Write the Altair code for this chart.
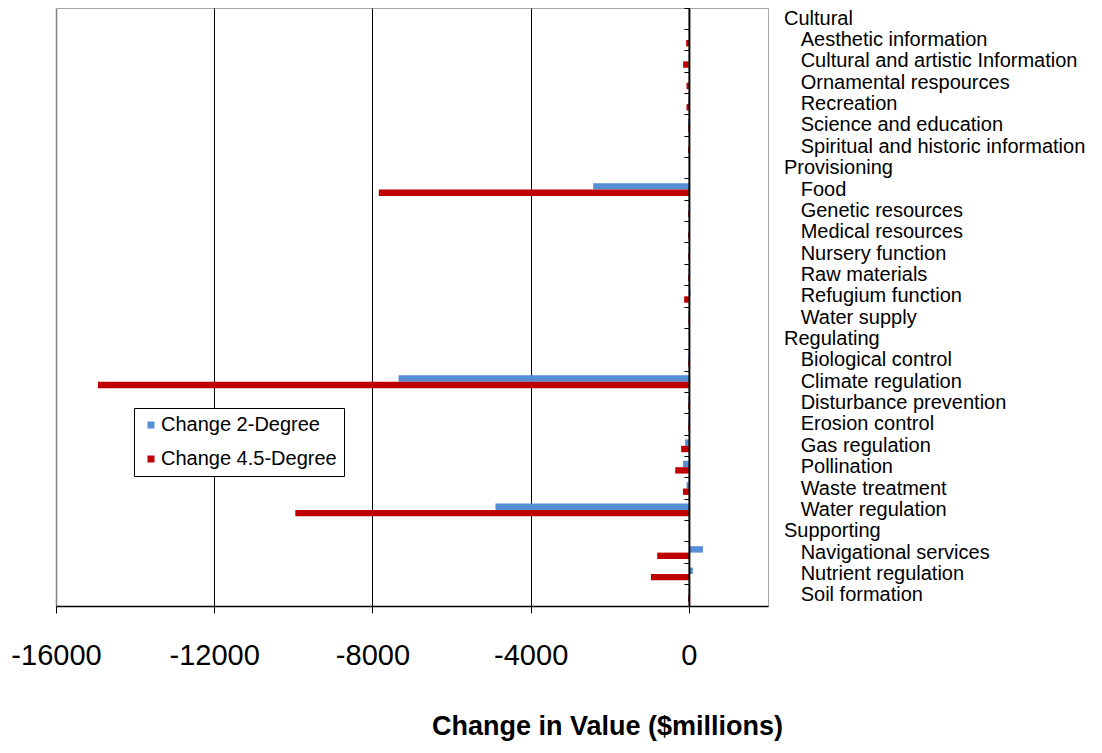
import altair as alt
import pandas as pd

# ---------------- data ----------------
categories = [
    "Cultural", "Aesthetic information", "Cultural and artistic Information",
    "Ornamental respources", "Recreation", "Science and education",
    "Spiritual and historic information",
    "Provisioning", "Food", "Genetic resources", "Medical resources",
    "Nursery function", "Raw materials", "Refugium function", "Water supply",
    "Regulating", "Biological control", "Climate regulation",
    "Disturbance prevention", "Erosion control", "Gas regulation",
    "Pollination", "Waste treatment", "Water regulation",
    "Supporting", "Navigational services", "Nutrient regulation", "Soil formation",
]
headers = ["Cultural", "Provisioning", "Regulating", "Supporting"]

change_2deg = [
    None, 0, 0, 0, -15, -20, 0,
    None, -2420, -5, -5, -5, -5, 40, -15,
    None, -15, -7340, -15, -15, -95, -150, -60, -4890,
    None, 355, 100, -5,
]
change_45deg = [
    None, -70, -145, -60, -60, -20, -20,
    None, -7840, -20, -20, -20, -20, -120, -15,
    None, -20, -14940, -20, -20, -195, -345, -150, -9950,
    None, -800, -960, -20,
]
series_names = ["Change 2-Degree", "Change 4.5-Degree"]
series_colors = ["#558ED5", "#C00000"]
x_ticks = [-16000, -12000, -8000, -4000, 0]

# ---------------- table ----------------
# zero-width space keeps the non-breaking-space indent from being trimmed
INDENT = "\u200b" + "\u00a0" * 3
labels = [c if c in headers else INDENT + c for c in categories]

rows = []
for lab, a, b in zip(labels, change_2deg, change_45deg):
    if a is not None:
        rows.append({"label": lab, "series": series_names[0], "value": a})
    if b is not None:
        rows.append({"label": lab, "series": series_names[1], "value": b})
df = pd.DataFrame(rows)

FONT = "Liberation Sans, Arial, sans-serif"
W, H = 712, 598

xscale = alt.Scale(domain=[-16000, 2000], nice=False, zero=False)
yscale = alt.Scale(domain=labels, paddingInner=0, paddingOuter=0)

x_enc = alt.X(
    "value:Q",
    scale=xscale,
    title="Change in Value ($millions)",
    axis=alt.Axis(
        values=x_ticks,
        labelExpr="'' + datum.value",
        labelFont=FONT,
        labelFontSize=29,
        labelColor="black",
        labelPadding=28,
        labelBaseline="top",
        labelFlush=False,
        labelOverlap=False,
        domainColor="black",
        domainWidth=1.5,
        tickColor="black",
        tickSize=7,
        tickWidth=1,
        grid=True,
        gridColor=alt.condition("datum.value === -16000", alt.value("#808080"), alt.value("black")),
        gridWidth=alt.condition("datum.value === -16000", alt.value(1.5), alt.value(1)),
        gridOpacity=1,
        titleFont=FONT,
        titleFontSize=27,
        titleFontWeight="bold",
        titleColor="black",
        titleX=551,
        titleY=128,
        titleAlign="center",
        titleBaseline="alphabetic",
        titleAngle=0,
    ),
)

bars = alt.Chart(df).mark_bar().encode(
    x=x_enc,
    y=alt.Y(
        "label:N",
        scale=yscale,
        title=None,
        axis=alt.Axis(
            orient="right",
            domain=False,
            ticks=False,
            grid=False,
            labelAlign="left",
            labelBaseline="middle",
            labelPadding=15.5,
            labelFont=FONT,
            labelFontSize=20,
            labelColor="black",
            labelLimit=400,
        ),
    ),
    yOffset=alt.YOffset(
        "series:N",
        sort=series_names,
        scale=alt.Scale(paddingInner=0, paddingOuter=0.67),
    ),
    color=alt.Color(
        "series:N",
        scale=alt.Scale(domain=series_names, range=series_colors),
        legend=alt.Legend(
            title=None,
            orient="none",
            legendX=78,
            legendY=400,
            padding=7,
            strokeColor="black",
            fillColor="white",
            symbolType="square",
            symbolSize=49,
            symbolStrokeWidth=0,
            symbolOffset=0,
            labelOffset=0,
            labelFont=FONT,
            labelFontSize=20,
            labelColor="black",
            labelLimit=300,
            rowPadding=14,
        ),
    ),
)

zero_axis = alt.Chart(df).mark_point(opacity=0).encode(
    x=x_enc,
    y=alt.Y(
        "label:N",
        scale=yscale,
        title=None,
        axis=alt.Axis(
            orient="left",
            offset=-632.9,
            labels=False,
            grid=False,
            domainColor="black",
            domainWidth=2,
            tickColor="black",
            tickSize=5,
            tickWidth=1,
            bandPosition=0,
            zindex=1,
        ),
    ),
)

chart = (
    alt.layer(bars, zero_axis)
    .resolve_axis(y="independent")
    .properties(
        width=W,
        height=H,
        padding={"left": 48, "top": 0, "right": 326, "bottom": 135},
        autosize=alt.AutoSizeParams(type="none"),
        background="white",
    )
    .configure_view(stroke="#a6a6a6", strokeWidth=1)
)

chart.save("out.html", embed_options={"renderer": "svg", "actions": False})
